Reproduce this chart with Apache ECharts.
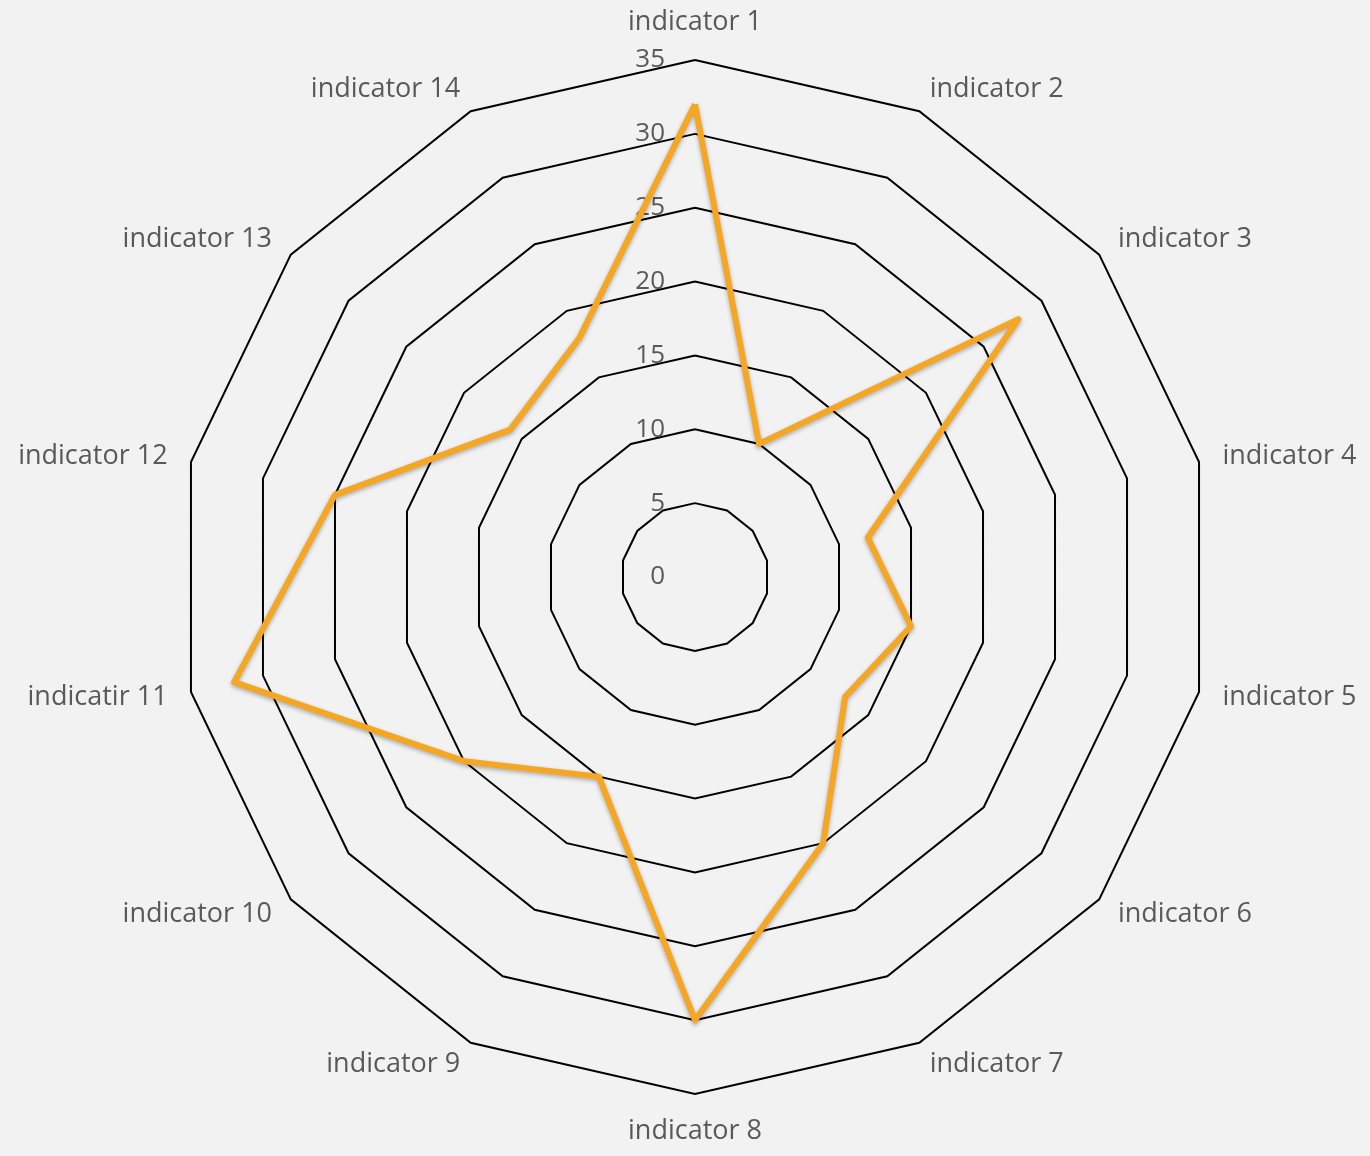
<!DOCTYPE html>
<html><head><meta charset="utf-8">
<script src="https://cdn.jsdelivr.net/npm/echarts@6/dist/echarts.min.js"></script>
<style>html,body{margin:0;padding:0;background:#f2f2f2}#c{width:1370px;height:1156px}</style>
</head><body><div id="c"></div>
<script>
const indicatorNames = ['indicator 1','indicator 2','indicator 3','indicator 4','indicator 5','indicator 6','indicator 7','indicator 8','indicator 9','indicator 10','indicatir 11','indicator 12','indicator 13','indicator 14'];
const seriesValues = [32, 10, 28, 12, 15, 13, 20, 30, 15, 20, 32, 25, 16, 18];
const axisMax = 35;
const axisStep = 5;

// ECharts radar runs counter-clockwise; reorder so indicators run clockwise
const order = [0].concat(indicatorNames.map((_, i) => i).slice(1).reverse());

const chart = echarts.init(document.getElementById('c'));
const font = '"Open Sans", Lato, sans-serif';
chart.setOption({
  backgroundColor: '#f2f2f2',
  animation: false,
  radar: {
    center: [695, 577],
    radius: 517,
    startAngle: 90,
    shape: 'polygon',
    splitNumber: axisMax / axisStep,
    indicator: order.map(i => ({ name: indicatorNames[i], min: 0, max: axisMax })),
    axisName: { color: '#595959', fontSize: 27, fontFamily: font },
    nameGap: 24,
    axisLine: { show: false },
    axisTick: { show: false },
    axisLabel: { show: false },
    splitLine: { lineStyle: { color: '#000', width: 2 } },
    splitArea: { show: false }
  },
  polar: { center: [695, 577], radius: 517 },
  angleAxis: { show: false, startAngle: 90, min: 0, max: 360 },
  radiusAxis: {
    min: 0, max: axisMax, interval: axisStep,
    axisLine: { show: false }, axisTick: { show: false }, splitLine: { show: false },
    axisLabel: { color: '#595959', fontSize: 26, fontFamily: font, margin: 30 }
  },
  series: [{
    type: 'radar',
    symbol: 'none',
    data: [{ value: order.map(i => seriesValues[i]) }],
    lineStyle: { color: '#F5A623', width: 6, shadowBlur: 4, shadowColor: 'rgba(0,0,0,0.3)', shadowOffsetY: 2 }
  }]
});
</script></body></html>
